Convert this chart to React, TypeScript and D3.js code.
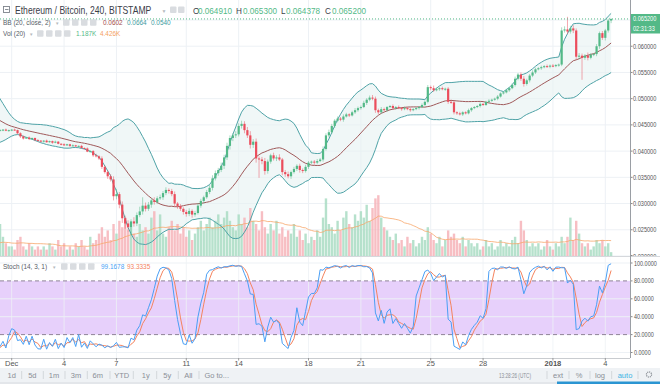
import React from 'react';
import * as d3 from 'd3';

// ---- DATA ----------------------------------------------------------------
// Prices in units of 0.0001 BTC. 4h candles; index k counts candles from Dec 1 00:00.
// The first 20 candles (k = -24 .. -5) are history used only by the indicators.
const FIRST_K = -24;
const FIRST_OPEN = 515;
const closes = [
  512, 506, 500, 492, 482, 472, 466, 461, 456, 452, 450, 448, 446, 444, 443, 442, 441, 442, 441, 440,
  440, 441, 439, 440,
  441, 440, 434, 428, 424, 426, 423, 425, 421, 420,
  418, 420, 417, 419, 416, 418, 414, 413, 411, 413,
  410, 411, 409, 410, 406, 405, 399, 400, 392, 390,
  386, 370, 360, 352, 346, 314, 318, 298, 272, 262,
  255, 266, 262, 278, 285, 296, 290, 298, 306, 303,
  310, 312, 320, 326, 324, 318, 300, 295, 290, 284,
  280, 286, 279, 282, 296, 305, 312, 322, 330, 348,
  358, 364, 372, 388, 410, 425, 430, 432, 448, 452,
  440, 430, 412, 418, 386, 384, 381, 362, 380, 392,
  386, 388, 384, 360, 356, 352, 360, 366, 372, 364,
  362, 370, 378, 380, 378, 381, 384, 404, 430, 436,
  448, 458, 462, 460, 466, 470, 468, 474, 478, 482,
  484, 492, 498, 502, 500, 478, 474, 480, 478, 484,
  486, 482, 484, 482, 480, 482, 480, 478, 480, 482,
  484, 488, 494, 522, 520, 516, 518, 520, 518, 519,
  494, 493, 474, 472, 470, 474, 472, 478, 482, 484,
  486, 490, 488, 494, 496, 498, 500, 504, 510, 512,
  516, 520, 526, 538, 546, 538, 528, 535, 544, 550,
  556, 558, 560, 562, 561, 563, 562, 564, 565, 630,
  632, 628, 634, 630, 580, 582, 578, 582, 578, 584,
  585, 600, 625, 616, 630, 649, 652,
];
const wickUp = [
  2, 2, 3, 2, 2, 1, 2, 2, 1, 2, 1, 2, 1, 1, 2, 1, 1, 2, 1, 1,
  2, 1, 2, 1,
  1, 2, 1, 2, 2, 1, 2, 1, 1, 2,
  1, 1, 2, 1, 1, 2, 1, 1, 2, 1,
  1, 2, 1, 1, 2, 1, 2, 1, 2, 3,
  2, 4, 3, 3, 4, 6, 10, 4, 6, 5,
  6, 4, 8, 5, 9, 16, 6, 5, 4, 6,
  4, 5, 4, 5, 3, 4, 5, 3, 4, 3,
  4, 5, 3, 4, 5, 4, 3, 4, 5, 6,
  5, 4, 6, 5, 6, 5, 4, 6, 5, 6,
  5, 6, 8, 5, 6, 4, 5, 6, 4, 3,
  5, 4, 6, 3, 4, 5, 3, 4, 3, 4,
  3, 4, 3, 2, 3, 4, 3, 5, 4, 5,
  4, 3, 4, 3, 4, 3, 2, 3, 4, 3,
  3, 4, 3, 4, 5, 4, 3, 4, 3, 2,
  2, 3, 2, 3, 2, 3, 2, 3, 2, 2,
  2, 3, 2, 4, 3, 5, 3, 2, 3, 2,
  3, 4, 3, 2, 3, 2, 2, 3, 2, 2,
  2, 3, 2, 2, 3, 2, 2, 3, 2, 2,
  3, 2, 3, 4, 3, 4, 5, 3, 3, 4,
  3, 2, 3, 2, 3, 2, 3, 2, 2, 6,
  6, 24, 5, 6, 4, 5, 4, 3, 6, 3,
  2, 4, 3, 4, 3, 3, 1,
];
const wickDn = [
  2, 1, 2, 2, 1, 2, 1, 2, 1, 1, 2, 1, 1, 2, 1, 1, 2, 1, 1, 2,
  1, 2, 1, 2,
  2, 1, 2, 3, 2, 1, 2, 1, 2, 1,
  1, 2, 1, 1, 2, 1, 1, 2, 1, 1,
  2, 1, 1, 2, 1, 2, 1, 2, 3, 2,
  3, 4, 3, 5, 4, 8, 6, 7, 9, 10,
  8, 15, 6, 5, 4, 6, 5, 4, 6, 5,
  4, 3, 5, 4, 5, 4, 6, 5, 4, 5,
  5, 4, 6, 4, 3, 4, 5, 3, 4, 5,
  4, 5, 4, 6, 5, 7, 6, 5, 4, 5,
  6, 5, 7, 6, 8, 35, 6, 7, 5, 4,
  4, 5, 3, 6, 5, 4, 5, 3, 4, 5,
  4, 3, 4, 3, 4, 3, 2, 4, 3, 4,
  3, 4, 3, 3, 4, 2, 3, 2, 3, 3,
  3, 2, 4, 3, 3, 5, 4, 3, 2, 3,
  2, 2, 3, 2, 3, 2, 2, 3, 2, 2,
  3, 2, 2, 3, 4, 3, 2, 3, 2, 3,
  4, 3, 4, 3, 2, 3, 2, 2, 3, 2,
  2, 3, 2, 2, 3, 2, 2, 3, 2, 2,
  2, 3, 2, 3, 3, 4, 5, 3, 4, 3,
  3, 2, 3, 2, 2, 3, 2, 2, 3, 3,
  4, 5, 4, 5, 6, 5, 42, 4, 5, 3,
  3, 4, 5, 4, 5, 4, 5,
];
// volume in thousands (K)
const volumes = [
  4, 3, 5, 4, 6, 3, 5, 4, 3, 4, 5, 3, 4, 3, 2, 4, 3, 5, 3, 4,
  10, 6, 4, 3,
  3, 2, 5, 6, 3, 2, 4, 3, 2, 3,
  2, 3, 2, 4, 3, 2, 5, 3, 4, 2,
  3, 2, 4, 3, 5, 3, 2, 6, 4, 5,
  7, 9, 6, 8, 5, 10, 7, 11, 9, 12,
  8, 9, 7, 6, 10, 8, 9, 7, 12, 14,
  8, 13, 7, 6, 9, 11, 8, 10, 7, 9,
  6, 8, 5, 7, 9, 11, 8, 10, 12, 9,
  11, 13, 10, 12, 14, 11, 9, 8, 13, 10,
  12, 9, 15, 11, 10, 8, 14, 9, 7, 10,
  8, 11, 7, 9, 6, 8, 7, 10, 6, 8,
  5, 7, 4, 6, 5, 8, 6, 12, 18, 10,
  9, 7, 11, 8, 12, 14, 10, 9, 13, 11,
  14, 12, 16, 11, 15, 18, 19, 12, 9, 8,
  6, 5, 7, 4, 5, 3, 6, 4, 5, 3,
  4, 6, 5, 9, 7, 5, 4, 6, 3, 5,
  8, 6, 7, 5, 4, 6, 3, 5, 4, 3,
  4, 2, 3, 5, 3, 4, 2, 3, 5, 3,
  4, 3, 5, 6, 4, 11, 8, 5, 3, 4,
  3, 4, 2, 3, 5, 3, 2, 4, 3, 6,
  4, 6, 12, 5, 11, 7, 4, 3, 4, 2,
  3, 5, 4, 5, 3, 4, 1.2,
];
const priceTicks = [200, 250, 300, 350, 400, 450, 500, 550, 600, 650];
const stochTicks = [0, 20, 40, 60, 80, 100];
const dateTickDays = [0, 3, 6, 10, 13, 17, 20, 24, 27, 31, 34];
const dateTickLabels = ['Dec', '4', '7', '11', '14', '18', '21', '25', '28', '2018', '4'];
const toolbarLeft = ['1d', '5d', '1m', '3m', '6m', 'YTD', '1y', '5y', 'All', 'Go to...'];

// ---- STYLE -----------------------------------------------------------------
const FONT = 'Liberation Sans, Arial, sans-serif';
const UP = '#53b987';
const DOWN = '#eb4d5c';
const GRID = '#edf1f5';
const AXIS_X = 630;
const MAIN_BOTTOM = 256;
const STOCH_TOP = 257;
const STOCH_BOTTOM = 358;

type TProps = { x: number; y: number; sx?: number; size?: number; fill?: string; anchor?: string; weight?: string | number; children: React.ReactNode };
// text with optional horizontal condensing (sx) so it matches the narrow screenshot font
const T = ({ x, y, sx = 1, size = 8, fill = '#555', anchor, weight, children }: TProps) => (
  <text transform={`translate(${x},${y}) scale(${sx},1)`} fontSize={size} fill={fill} fontFamily={FONT}
    textAnchor={anchor as any} fontWeight={weight as any}>{children}</text>
);

const Squares = ({ x0, y, n, gap }: { x0: number; y: number; n: number; gap: number }) => (
  <g>{d3.range(n).map(i => <rect key={i} x={x0 + i * gap} y={y} width={6.5} height={6.5} rx={1} fill="#d9dce0" />)}</g>
);

export default function App() {
  const candles = closes.map((c, i) => {
    const o = i === 0 ? FIRST_OPEN : closes[i - 1];
    return { k: FIRST_K + i, o, c, h: Math.max(o, c) + wickUp[i], l: Math.min(o, c) - wickDn[i], v: volumes[i] };
  });

  const x = d3.scaleLinear().domain([0, 204]).range([11.7, 605.3]);
  const yP = d3.scaleLinear().domain([200, 650]).range([256, 20]);
  const yV = d3.scaleLinear().domain([0, 20]).range([256, 192]);
  const yS = d3.scaleLinear().domain([0, 100]).range([352.5, 263]);

  // Bollinger bands (20, 2)
  const bb = candles.map((d, i) => {
    if (i < 19) return null;
    const w = closes.slice(i - 19, i + 1);
    const m = d3.mean(w) as number;
    const sd = Math.sqrt(d3.mean(w.map(v => (v - m) ** 2)) as number);
    return { k: d.k, m, u: m + 2 * sd, l: m - 2 * sd };
  }).filter(Boolean) as { k: number; m: number; u: number; l: number }[];

  // Volume MA 20
  const vma = candles.map((d, i) => (i < 19 ? null : { k: d.k, v: d3.mean(volumes.slice(i - 19, i + 1)) as number }))
    .filter(Boolean) as { k: number; v: number }[];

  // Stochastic (14) with 3-period %D
  const kRaw = candles.map((d, i) => {
    if (i < 13) return null;
    const win = candles.slice(i - 13, i + 1);
    const hh = d3.max(win, e => e.h) as number;
    const ll = d3.min(win, e => e.l) as number;
    return 100 * (d.c - ll) / (hh - ll);
  });
  const stK = candles.map((d, i) => (kRaw[i] == null ? null : { k: d.k, v: kRaw[i] as number })).filter(Boolean) as { k: number; v: number }[];
  const stD = candles.map((d, i) => (i < 15 ? null : { k: d.k, v: ((kRaw[i] as number) + (kRaw[i - 1] as number) + (kRaw[i - 2] as number)) / 3 }))
    .filter(Boolean) as { k: number; v: number }[];

  const vis = candles.filter(d => d.k >= -5);
  const bbVis = bb.filter(d => d.k >= -5);

  const area = d3.area<{ k: number; u: number; l: number }>().x(d => x(d.k)).y0(d => yP(d.l)).y1(d => yP(d.u));
  const lineU = d3.line<{ k: number; u: number }>().x(d => x(d.k)).y(d => yP(d.u));
  const lineL = d3.line<{ k: number; l: number }>().x(d => x(d.k)).y(d => yP(d.l));
  const lineM = d3.line<{ k: number; m: number }>().x(d => x(d.k)).y(d => yP(d.m));
  const lineV = d3.line<{ k: number; v: number }>().x(d => x(d.k)).y(d => yV(d.v));
  const lineS = d3.line<{ k: number; v: number }>().x(d => x(d.k)).y(d => yS(d.v));

  const dateX = dateTickDays.map(dd => x(dd * 6));

  return (
    <svg width={660} height={384} style={{ position: 'fixed', left: 0, top: 0, background: '#fff' }}>
      <defs>
        <clipPath id="mainClip"><rect x={0} y={0} width={AXIS_X} height={MAIN_BOTTOM} /></clipPath>
        <clipPath id="stochClip"><rect x={0} y={STOCH_TOP} width={AXIS_X} height={STOCH_BOTTOM - STOCH_TOP} /></clipPath>
        <clipPath id="axisClip"><rect x={AXIS_X} y={0} width={30} height={MAIN_BOTTOM} /></clipPath>
      </defs>
      <rect x={0} y={0} width={660} height={384} fill="#fff" />

      {/* ---- main pane ---- */}
      <g clipPath="url(#mainClip)">
        {priceTicks.map(p => <line key={p} x1={0} x2={AXIS_X} y1={yP(p)} y2={yP(p)} stroke={GRID} />)}
        {dateX.map((dx, i) => <line key={i} x1={dx} x2={dx} y1={0} y2={MAIN_BOTTOM} stroke={GRID} />)}
        <path d={area(bbVis) || ''} fill="#e6f2f2" fillOpacity={0.6} />
        {vis.map(d => (
          <rect key={'v' + d.k} x={x(d.k) - 1.2} width={2.4} y={yV(d.v)} height={yV(0) - yV(d.v)}
            fill={d.c >= d.o ? '#a9dcc3' : '#f6b3b9'} fillOpacity={0.85} />
        ))}
        <path d={lineV(vma.filter(d => d.k >= -5)) || ''} fill="none" stroke="#f7a76c" strokeWidth={1} opacity={0.8} />
        <path d={lineU(bbVis) || ''} fill="none" stroke="#4fa3a7" strokeWidth={1} />
        <path d={lineL(bbVis) || ''} fill="none" stroke="#4fa3a7" strokeWidth={1} />
        <path d={lineM(bbVis) || ''} fill="none" stroke="#a0595a" strokeWidth={1} />
        {vis.map(d => {
          const col = d.c >= d.o ? UP : DOWN;
          const top = yP(Math.max(d.o, d.c));
          const bot = yP(Math.min(d.o, d.c));
          return (
            <g key={'c' + d.k}>
              <line x1={x(d.k)} x2={x(d.k)} y1={yP(d.h)} y2={yP(d.l)} stroke={col} strokeOpacity={0.55} strokeWidth={0.9} />
              <rect x={x(d.k) - 1.1} width={2.2} y={top} height={Math.max(1, bot - top)} fill={col} />
            </g>
          );
        })}
        <line x1={0} x2={AXIS_X} y1={yP(652)} y2={yP(652)} stroke={UP} strokeDasharray="1,2" strokeWidth={1} />
      </g>

      {/* price axis */}
      {priceTicks.filter(p => p > 200).map(p => (
        <g key={p}>
          <line x1={AXIS_X} x2={AXIS_X + 2.5} y1={yP(p)} y2={yP(p)} stroke="#888" />
          <T x={633} y={yP(p) + 2.5} sx={0.8} size={7} fill="#555">{(p / 10000).toFixed(6)}</T>
        </g>
      ))}
      <g clipPath="url(#axisClip)">
        <line x1={AXIS_X} x2={AXIS_X + 2.5} y1={255.5} y2={255.5} stroke="#888" />
        <T x={633} y={yP(200) + 2.5} sx={0.8} size={7} fill="#555">{(200 / 10000).toFixed(6)}</T>
      </g>
      <rect x={631} y={14} width={29} height={19.5} fill={UP} />
      <T x={633} y={21.2} sx={0.8} size={7} fill="#fff">0.065200</T>
      <T x={633} y={30.8} sx={0.8} size={7} fill="#fff">02:31:33</T>

      {/* legends */}
      <rect x={3.5} y={6.5} width={6} height={6} fill="none" stroke="#7e848c" strokeWidth={0.9} />
      <line x1={5} x2={8.5} y1={9.5} y2={9.5} stroke="#7e848c" strokeWidth={0.9} />
      <T x={15} y={14.2} sx={0.86} size={10} fill="#3b4049">Ethereum / Bitcoin, 240, BITSTAMP</T>
      <T x={161.5} y={12.5} size={5} fill="#b5b9be">▼</T>
      <Squares x0={170} y={6.5} n={2} gap={8} />
      <T x={193} y={14.2} sx={0.86} size={9.5} fill="#3b4049">O</T>
      <T x={198} y={14.2} sx={0.86} size={9.5} fill={UP}>0.064910</T>
      <T x={236} y={14.2} sx={0.86} size={9.5} fill="#3b4049">H</T>
      <T x={243} y={14.2} sx={0.86} size={9.5} fill={UP}>0.065300</T>
      <T x={281} y={14.2} sx={0.86} size={9.5} fill="#3b4049">L</T>
      <T x={286} y={14.2} sx={0.86} size={9.5} fill={UP}>0.064378</T>
      <T x={325} y={14.2} sx={0.86} size={9.5} fill="#3b4049">C</T>
      <T x={332} y={14.2} sx={0.86} size={9.5} fill={UP}>0.065200</T>

      <T x={3} y={25.2} sx={0.86} size={7.5} fill="#555c66">BB (20, close, 2)</T>
      <T x={55} y={24.5} size={4.5} fill="#b5b9be">▼</T>
      <Squares x0={63} y={19.2} n={4} gap={9} />
      <T x={103} y={25.2} sx={0.86} size={7.5} fill="#a34a4a">0.0602</T>
      <T x={127} y={25.2} sx={0.86} size={7.5} fill="#3d9ba1">0.0664</T>
      <T x={151} y={25.2} sx={0.86} size={7.5} fill="#3d9ba1">0.0540</T>

      <T x={3} y={36.3} sx={0.86} size={7.5} fill="#555c66">Vol (20)</T>
      <T x={29} y={35.5} size={4.5} fill="#b5b9be">▼</T>
      <Squares x0={37} y={30.3} n={4} gap={9} />
      <T x={76} y={36.3} sx={0.86} size={7.5} fill={UP}>1.187K</T>
      <T x={100} y={36.3} sx={0.86} size={7.5} fill="#f5a15f">4.426K</T>

      {/* separator */}
      <line x1={0} x2={660} y1={256.5} y2={256.5} stroke="#d5d8dc" />

      {/* ---- stochastic pane ---- */}
      <g clipPath="url(#stochClip)">
        <rect x={0} y={yS(80)} width={AXIS_X} height={yS(20) - yS(80)} fill="#e7d0fb" />
        {[0, 40, 60, 100].map(s => <line key={s} x1={0} x2={AXIS_X} y1={yS(s)} y2={yS(s)} stroke={GRID} />)}
        {dateX.map((dx, i) => <line key={i} x1={dx} x2={dx} y1={STOCH_TOP} y2={STOCH_BOTTOM} stroke={GRID} strokeOpacity={0.8} />)}
        {[20, 80].map(s => <line key={s} x1={0} x2={AXIS_X} y1={yS(s)} y2={yS(s)} stroke="#8f8497" strokeDasharray="4,3" />)}
        <path d={lineS(stD.filter(d => d.k >= -5)) || ''} fill="none" stroke="#f4845f" strokeWidth={1} />
        <path d={lineS(stK.filter(d => d.k >= -5)) || ''} fill="none" stroke="#4a9ff5" strokeWidth={1} />
      </g>
      {stochTicks.map(s => (
        <g key={s}>
          <line x1={AXIS_X} x2={AXIS_X + 2.5} y1={yS(s)} y2={yS(s)} stroke="#888" />
          <T x={634} y={yS(s) + 2.5} sx={0.78} size={7} fill="#555">{s.toFixed(4)}</T>
        </g>
      ))}
      <T x={3} y={269.2} sx={0.86} size={7.5} fill="#555c66">Stoch (14, 3, 1)</T>
      <T x={52} y={268.5} size={4.5} fill="#b5b9be">▼</T>
      <Squares x0={61} y={263.3} n={4} gap={9} />
      <T x={101} y={269.2} sx={0.86} size={7.5} fill="#4a9ff5">99.1678</T>
      <T x={127} y={269.2} sx={0.86} size={7.5} fill="#f4845f">93.3335</T>

      {/* axes frame */}
      <line x1={AXIS_X + 0.5} x2={AXIS_X + 0.5} y1={0} y2={STOCH_BOTTOM} stroke="#9a9ea4" />
      <line x1={0} x2={AXIS_X} y1={STOCH_BOTTOM + 0.5} y2={STOCH_BOTTOM + 0.5} stroke="#c9ccd0" />

      {/* date axis */}
      {dateX.map((dx, i) => (
        <g key={i}>
          <line x1={dx} x2={dx} y1={STOCH_BOTTOM} y2={STOCH_BOTTOM + 2.5} stroke="#999" />
          <T x={dx} y={366} size={7.5} fill="#555" anchor="middle" weight={dateTickLabels[i] === '2018' ? 'bold' : 'normal'}>{dateTickLabels[i]}</T>
        </g>
      ))}

      {/* toolbar */}
      <rect x={0} y={368} width={660} height={14} fill="#eff2f5" />
      <rect x={0} y={382} width={660} height={2} fill="#e3e6ea" />
      <rect x={557} y={381.5} width={103} height={2.5} fill="#2b95d2" />
      {toolbarLeft.map((t, i) => {
        const cx = [11.7, 32.3, 54, 76, 97.7, 121.7, 145.7, 167.3, 188.3, 216.7][i];
        return <T key={t} x={cx} y={377.5} size={7.5} fill="#8b9097" anchor="middle">{t}</T>;
      })}
      {[21.7, 43.3, 65, 87.3, 110, 133.3, 156.7, 178.3, 199].map(sx => (
        <line key={sx} x1={sx} x2={sx} y1={371} y2={379} stroke="#d3d7db" />
      ))}
      <T x={515} y={377.5} sx={0.62} size={7.5} fill="#8b9097" anchor="middle">13:28:26 (UTC)</T>
      {[547, 569, 590, 611.7, 638].map(sx => <line key={sx} x1={sx} x2={sx} y1={371} y2={379} stroke="#d3d7db" />)}
      <T x={558} y={377.5} size={7.5} fill="#8b9097" anchor="middle">ext</T>
      <T x={579} y={377.5} size={7.5} fill="#8b9097" anchor="middle">%</T>
      <T x={600} y={377.5} size={7.5} fill="#8b9097" anchor="middle">log</T>
      <T x={625} y={377.5} size={7.5} fill="#3bb3e4" anchor="middle">auto</T>
      <circle cx={649} cy={374.5} r={2.6} fill="none" stroke="#8b9097" strokeWidth={1.2} strokeDasharray="1.2,0.8" />
    </svg>
  );
}
